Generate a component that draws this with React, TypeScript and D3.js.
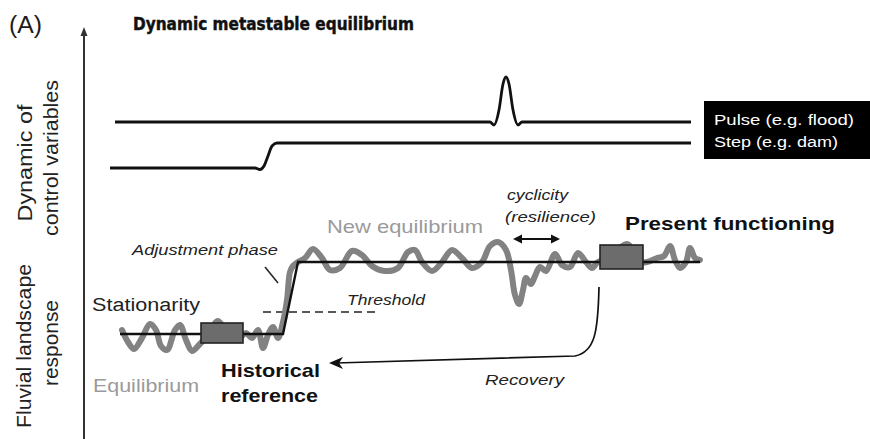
import React from "react";
import * as d3 from "d3";

// ---- Data (time units along x, level units along y) ----
// Control variables
const pulseT = [15, 390, 394, 399, 403, 406, 409, 413, 418, 422, 591];
const pulseV = [48, 48, 45, 60, 86, 93, 86, 60, 45, 48, 48];
const stepT = [10, 155, 160, 164, 168, 172, 177, 591];
const stepV = [2, 2, 0.5, 4, 14, 24, 27, 27];

// Fluvial landscape response (grey trajectory)
const respT = [22, 28, 34, 42, 50, 56, 61, 67, 75, 80, 86, 92, 99, 108, 118, 128, 140, 146, 152, 158, 163, 168, 173, 178, 183, 187, 190, 193, 198, 205, 213, 222, 230, 240, 252, 262, 272, 285, 298, 308, 315, 322, 332, 342, 352, 362, 372, 382, 390, 398, 406, 411, 415, 419, 423, 426, 431, 435, 440, 446, 455, 462, 470, 478, 486, 492, 498, 510, 527, 540, 547, 557, 564, 570, 575, 580, 586, 590, 595, 600];
const respV = [7, -5, -12, -1, 13, 7, -9, -13, 7, 12, -3, -14, -8, 2, 16, 3, 0, 4, -1, 7, -11, 2, 10, -1, 15, 37, 65, 71, 75, 79, 88, 79, 67, 69, 86, 82, 71, 66, 69, 85, 87, 75, 66, 75, 87, 79, 69, 75, 91, 95, 87, 67, 42, 33, 47, 59, 53, 61, 70, 66, 83, 72, 70, 84, 75, 69, 75, 79, 93, 75, 75, 79, 81, 91, 77, 69, 75, 89, 79, 77];

// Equilibrium (black) trend
const trendT = [20, 183, 198, 600];
const trendV = [3, 3, 75, 75];

// Threshold level and extent
const thresholdT = [163, 280];
const thresholdV = 25;

// Reference boxes [t0, t1, v0, v1]
const boxHist = [101, 143, -6, 14];
const boxPresent = [500, 543, 68, 92];

// Recovery arrow anchor points
const recovT = [499, 498, 495, 475, 236];
const recovV = [50, 5, -15, -19, -26];

// Cyclicity double arrow
const cycT = [413, 460];
const cycV = 98;

// Adjustment phase pointer
const adjT = [165, 178];
const adjV = [70, 54];

const FONT = "'Liberation Sans', Arial, Helvetica, sans-serif";
const GREY = "#828282";
const GREY_TXT = "#9a9a9a";
const INK = "#1c1c1c";

export default function App() {
  const W = 870;
  const H = 439;
  const x = d3.scaleLinear().domain([0, 600]).range([100, 700]);
  const yC = d3.scaleLinear().domain([0, 100]).range([170, 70]);
  const yR = d3.scaleLinear().domain([0, 75]).range([337, 262]);

  const line = (ts: number[], vs: number[], ys: d3.ScaleLinear<number, number>, curve: d3.CurveFactory) =>
    d3
      .line<number>()
      .x((_, i) => x(ts[i]))
      .y((_, i) => ys(vs[i]))
      .curve(curve)(ts) as string;

  const pulsePath = line(pulseT, pulseV, yC, d3.curveMonotoneX);
  const stepPath = line(stepT, stepV, yC, d3.curveMonotoneX);
  const respPath = line(respT, respV, yR, d3.curveCatmullRom.alpha(0.5));
  const trendPath = line(trendT, trendV, yR, d3.curveLinear);

  const recovPath =
    `M${x(recovT[0])},${yR(recovV[0])} C${x(recovT[1])},${yR(recovV[1])} ${x(recovT[2])},${yR(recovV[2])} ${x(recovT[3])},${yR(recovV[3])} L${x(recovT[4])},${yR(recovV[4])}`;
  const tipX = x(recovT[4]) - 7;
  const tipY = yR(recovV[4]);

  const box = (b: number[]) => ({
    x: x(b[0]),
    y: yR(b[3]),
    w: x(b[1]) - x(b[0]),
    h: yR(b[2]) - yR(b[3]),
  });
  const b1 = box(boxHist);
  const b2 = box(boxPresent);

  const cy = yR(cycV);
  const cx0 = x(cycT[0]);
  const cx1 = x(cycT[1]);

  const rot = (tx: number, ty: number) => `translate(${tx},${ty}) rotate(-90)`;

  return (
    <svg width={W} height={H} style={{ position: "absolute", left: 0, top: 0, background: "#fff" }} fontFamily={FONT}>
      <rect x={0} y={0} width={W} height={H} fill="#fff" />
      {/* Panel label and title */}
      <text x={9} y={33} fontSize={23} fill={INK} textLength={33} lengthAdjust="spacingAndGlyphs">(A)</text>
      <text x={133} y={30} fontSize={17} fontWeight="bold" fill="#111" stroke="#111" strokeWidth={0.45}
        fontFamily="'DejaVu Sans', sans-serif"
        textLength={281} lengthAdjust="spacingAndGlyphs">Dynamic metastable equilibrium</text>

      {/* Vertical axis */}
      <line x1={84} y1={34} x2={84} y2={H} stroke="#333" strokeWidth={2} />
      <polygon points="84,27 80.5,36 87.5,36" fill="#333" />

      {/* Axis labels */}
      <g fontSize={20} fill="#222" textAnchor="middle">
        <text transform={rot(32, 163)} textLength={117} lengthAdjust="spacingAndGlyphs">Dynamic of</text>
        <text transform={rot(58, 158)} textLength={156} lengthAdjust="spacingAndGlyphs">control variables</text>
        <text transform={rot(31, 346)} textLength={164} lengthAdjust="spacingAndGlyphs">Fluvial landscape</text>
        <text transform={rot(58, 343)} textLength={86} lengthAdjust="spacingAndGlyphs">response</text>
      </g>

      {/* Control variables */}
      <path d={pulsePath} fill="none" stroke="#111" strokeWidth={2.8} strokeLinejoin="round" />
      <path d={stepPath} fill="none" stroke="#111" strokeWidth={2.8} strokeLinejoin="round" />

      {/* Legend box */}
      <rect x={704} y={101} width={166} height={58} fill="#000" />
      <text x={714} y={125} fontSize={15.5} fill="#fff" textLength={140} lengthAdjust="spacingAndGlyphs">Pulse (e.g. flood)</text>
      <text x={714} y={147} fontSize={15.5} fill="#fff" textLength={124} lengthAdjust="spacingAndGlyphs">Step (e.g. dam)</text>

      {/* Threshold */}
      <line x1={x(thresholdT[0])} x2={x(thresholdT[1])} y1={yR(thresholdV)} y2={yR(thresholdV)}
        stroke="#222" strokeWidth={1.6} strokeDasharray="8,5" />

      {/* Response trajectory */}
      <path d={respPath} fill="none" stroke={GREY} strokeWidth={6} strokeLinejoin="round" strokeLinecap="round" />
      <path d={trendPath} fill="none" stroke="#111" strokeWidth={2.4} />

      {/* Reference boxes */}
      <rect x={b1.x} y={b1.y} width={b1.w} height={b1.h} fill="#6c6c6c" stroke="#222" strokeWidth={1.6} />
      <rect x={b2.x} y={b2.y} width={b2.w} height={b2.h} fill="#6c6c6c" stroke="#222" strokeWidth={1.6} />

      {/* Adjustment pointer */}
      <line x1={x(adjT[0])} y1={yR(adjV[0])} x2={x(adjT[1])} y2={yR(adjV[1])} stroke="#222" strokeWidth={1.6} />

      {/* Cyclicity double arrow */}
      <line x1={cx0 + 6} x2={cx1 - 6} y1={cy} y2={cy} stroke="#111" strokeWidth={1.8} />
      <polygon points={`${cx0},${cy} ${cx0 + 9},${cy - 4.5} ${cx0 + 9},${cy + 4.5}`} fill="#111" />
      <polygon points={`${cx1},${cy} ${cx1 - 9},${cy - 4.5} ${cx1 - 9},${cy + 4.5}`} fill="#111" />

      {/* Recovery arrow */}
      <path d={recovPath} fill="none" stroke="#111" strokeWidth={1.7} />
      <polygon points={`${tipX},${tipY} ${tipX + 14},${tipY - 6} ${tipX + 10},${tipY} ${tipX + 14},${tipY + 6}`} fill="#111" />

      {/* Annotations */}
      <text x={92} y={311} fontSize={18} fill="#222" textLength={108} lengthAdjust="spacingAndGlyphs">Stationarity</text>
      <text x={93} y={392} fontSize={18} fill={GREY_TXT} textLength={106} lengthAdjust="spacingAndGlyphs">Equilibrium</text>
      <text x={221} y={377} fontSize={19} fontWeight="bold" fill="#111" textLength={99} lengthAdjust="spacingAndGlyphs">Historical</text>
      <text x={221} y={402} fontSize={19} fontWeight="bold" fill="#111" textLength={97} lengthAdjust="spacingAndGlyphs">reference</text>
      <text x={132} y={255} fontSize={15} fontStyle="italic" fill="#222" textLength={146} lengthAdjust="spacingAndGlyphs">Adjustment phase</text>
      <text x={347} y={305} fontSize={15} fontStyle="italic" fill="#222" textLength={78} lengthAdjust="spacingAndGlyphs">Threshold</text>
      <text x={327} y={233} fontSize={19} fill={GREY_TXT} textLength={156} lengthAdjust="spacingAndGlyphs">New equilibrium</text>
      <text x={507} y={200} fontSize={15} fontStyle="italic" fill="#222" textLength={61} lengthAdjust="spacingAndGlyphs">cyclicity</text>
      <text x={505} y={222} fontSize={15} fontStyle="italic" fill="#222" textLength={91} lengthAdjust="spacingAndGlyphs">(resilience)</text>
      <text x={625} y={230} fontSize={19} fontWeight="bold" fill="#111" textLength={210} lengthAdjust="spacingAndGlyphs">Present functioning</text>
      <text x={485} y={385} fontSize={15} fontStyle="italic" fill="#222" textLength={79} lengthAdjust="spacingAndGlyphs">Recovery</text>
    </svg>
  );
}
